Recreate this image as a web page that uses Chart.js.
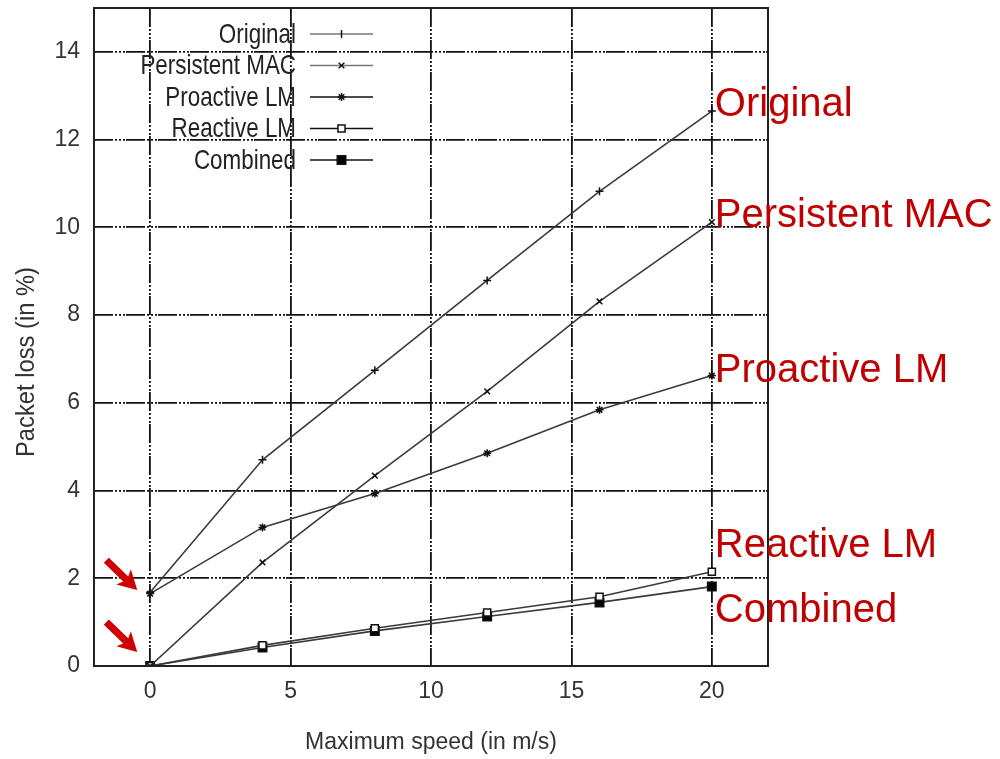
<!DOCTYPE html>
<html>
<head>
<meta charset="utf-8">
<script src="https://cdn.jsdelivr.net/npm/chart.js@4.4.1/dist/chart.umd.min.js"></script>
<style>
  html, body { margin: 0; padding: 0; background: #fff; }
  #wrap { width: 1000px; height: 759px; position: relative; }
</style>
</head>
<body>
<div id="wrap"><canvas id="chart"></canvas></div>
<script>
// ── Data ───────────────────────────────────────────────────────
const SPEEDS        = [0, 4, 8, 12, 16, 20];
const ORIGINAL      = [1.68, 4.70, 6.74, 8.79, 10.82, 12.65];
const PERSISTENT    = [0.00, 2.36, 4.34, 6.26, 8.31, 10.12];
const PROACTIVE     = [1.65, 3.16, 3.93, 4.85, 5.84, 6.62];
const REACTIVE      = [0.00, 0.47, 0.86, 1.22, 1.58, 2.15];
const COMBINED      = [0.00, 0.42, 0.80, 1.13, 1.45, 1.81];

const SERIES_NAMES  = ['Original', 'Persistent MAC', 'Proactive LM', 'Reactive LM', 'Combined'];
const X_TICKS       = [0, 5, 10, 15, 20];
const Y_TICKS       = [0, 2, 4, 6, 8, 10, 12, 14];

// red callouts on the right (anchored at the last speed, value in %)
const CALLOUT_TEXT  = ['Original', 'Persistent MAC', 'Proactive LM', 'Reactive LM', 'Combined'];
const CALLOUT_AT    = [12.8, 10.27, 6.73, 2.74, 1.26];
// red arrows point just left of speed 0
const ARROW_AT      = [1.73, 0.32];

const SANS = '"Liberation Sans", Arial, Helvetica, sans-serif';
const INK    = '#333';
const LINE   = '#3a3a3a';
const GRID_DASH = [19, 2, 2, 2, 2, 2, 2, 1];

const STYLES = [
  { pointStyle: 'cross',    radius: 4, fill: LINE },
  { pointStyle: 'crossRot', radius: 4, fill: LINE },
  { pointStyle: 'star',     radius: 4, fill: LINE },
  { pointStyle: 'rect',     radius: 5, fill: '#fff' },
  { pointStyle: 'rect',     radius: 6, fill: '#000' },
];

const pts = arr => SPEEDS.map((s, i) => ({ x: s, y: arr[i] }));
const SERIES = [ORIGINAL, PERSISTENT, PROACTIVE, REACTIVE, COMBINED];

const datasets = SERIES.map((arr, i) => ({
  label: SERIES_NAMES[i],
  data: pts(arr),
  borderColor: LINE,
  borderWidth: 1.6,
  pointStyle: STYLES[i].pointStyle,
  pointRadius: STYLES[i].radius,
  pointBackgroundColor: STYLES[i].fill,
  pointBorderColor: '#111',
  pointBorderWidth: 1.5,
  tension: 0,
}));

// narrow-looking text: regular sans squeezed horizontally
function narrowText(ctx, text, x, y, size, squeeze, align, rot) {
  ctx.save();
  ctx.translate(x, y);
  if (rot) ctx.rotate(rot);
  ctx.scale(squeeze, 1);
  ctx.font = size + 'px ' + SANS;
  ctx.textAlign = align;
  ctx.textBaseline = 'middle';
  ctx.fillText(text, 0, 0);
  ctx.restore();
}

// ── Overlay: frame, legend, y title, callouts, arrows ──────────
const overlay = {
  id: 'overlay',
  afterDraw(chart) {
    const { ctx, chartArea: a, scales: { x, y } } = chart;
    ctx.save();

    // frame
    ctx.strokeStyle = '#222';
    ctx.lineWidth = 2;
    ctx.setLineDash([]);
    ctx.strokeRect(a.left, a.top, a.right - a.left, a.bottom - a.top);

    // y axis title (sits a bit below the plot centre in the original)
    ctx.fillStyle = INK;
    narrowText(ctx, 'Packet loss (in %)', 27, (a.top + a.bottom) / 2 + 25, 25, 0.95, 'center', -Math.PI / 2);

    // legend (text right, sample line left)
    const textRight = a.left + 202, lx0 = a.left + 216, lx1 = a.left + 279, rowTop = a.top + 26, rowH = 31.5;
    SERIES_NAMES.forEach((name, i) => {
      const yy = rowTop + i * rowH;
      ctx.fillStyle = '#222';
      narrowText(ctx, name, textRight, yy + 1, 28, 0.8, 'right');
      ctx.strokeStyle = i < 2 ? '#777' : '#111';
      ctx.lineWidth = 1.6;
      ctx.beginPath(); ctx.moveTo(lx0, yy); ctx.lineTo(lx1, yy); ctx.stroke();
      ctx.fillStyle = STYLES[i].fill;
      ctx.strokeStyle = '#111';
      ctx.lineWidth = 1.5;
      Chart.helpers.drawPoint(ctx, {
        pointStyle: i === 0 ? 'line' : STYLES[i].pointStyle,
        rotation: i === 0 ? 90 : 0,
        radius: STYLES[i].radius, borderWidth: 1.5,
      }, (lx0 + lx1) / 2, yy);
    });

    // red callouts
    ctx.font = '40px ' + SANS;
    ctx.textAlign = 'left';
    ctx.textBaseline = 'middle';
    ctx.fillStyle = '#c00000';
    const cx = x.getPixelForValue(SPEEDS[SPEEDS.length - 1]) + 3;
    CALLOUT_TEXT.forEach((t, i) => ctx.fillText(t, cx, y.getPixelForValue(CALLOUT_AT[i])));

    // red arrows
    ARROW_AT.forEach(v => {
      const tx = x.getPixelForValue(-0.46), ty = y.getPixelForValue(v);
      const len = 43;
      ctx.save();
      ctx.translate(tx, ty);
      ctx.rotate(Math.atan2(29, 30));
      ctx.fillStyle = '#d00000';
      ctx.beginPath();
      ctx.moveTo(0, 0);
      ctx.lineTo(-19, -10.5);
      ctx.lineTo(-16, -3.6);
      ctx.lineTo(-len, -3.6);
      ctx.lineTo(-len, 3.6);
      ctx.lineTo(-16, 3.6);
      ctx.lineTo(-19, 10.5);
      ctx.closePath();
      ctx.fill();
      ctx.restore();
    });

    ctx.restore();
  },
};

// ── Chart ──────────────────────────────────────────────────────
new Chart(document.getElementById('chart'), {
  type: 'line',
  data: { datasets },
  plugins: [overlay],
  options: {
    responsive: true,
    maintainAspectRatio: false,
    animation: false,
    layout: { padding: { top: 8, right: 232, left: 0, bottom: 0 } },
    plugins: { legend: { display: false }, tooltip: { enabled: false } },
    scales: {
      x: {
        type: 'linear',
        min: -2, max: 22,
        afterBuildTicks: s => { s.ticks = X_TICKS.map(v => ({ value: v })); },
        afterFit: s => { s.height = 93; s.paddingLeft = 0; s.paddingRight = 0; },
        ticks: { color: INK, padding: 12, font: { family: SANS, size: 23 } },
        grid: { color: '#111', lineWidth: 1.8, drawTicks: false },
        border: { display: false, dash: GRID_DASH },
        title: {
          display: true, text: 'Maximum speed (in m/s)', color: INK,
          font: { family: SANS, size: 23 }, padding: { top: 0, bottom: 3 },
        },
      },
      y: {
        type: 'linear',
        min: 0, max: 15,
        afterBuildTicks: s => { s.ticks = Y_TICKS.map(v => ({ value: v })); },
        afterFit: s => { s.width = 94; s.paddingTop = 0; s.paddingBottom = 0; },
        ticks: { color: INK, padding: 14, font: { family: SANS, size: 23 } },
        grid: { color: '#111', lineWidth: 1.8, drawTicks: false },
        border: { display: false, dash: GRID_DASH },
        title: { display: false },
      },
    },
  },
});
</script>
</body>
</html>
